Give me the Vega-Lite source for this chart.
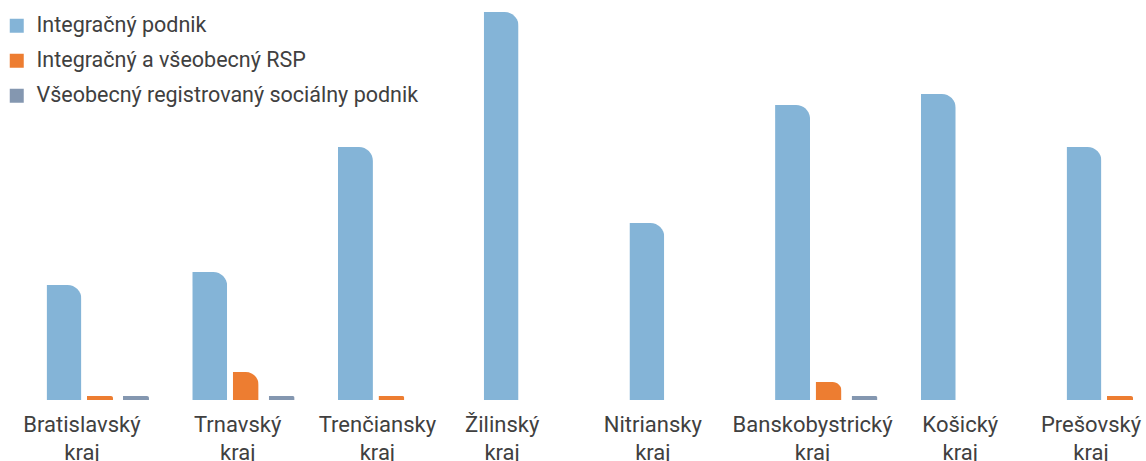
{
  "$schema": "https://vega.github.io/schema/vega-lite/v6.json",
  "autosize": "none",
  "width": 1146,
  "height": 388,
  "padding": {"left": 0, "top": 12, "right": 0, "bottom": 61},
  "background": "white",
  "config": {
    "view": {"stroke": null},
    "font": "Roboto",
    "axis": {"labelFont": "Roboto", "labelColor": "#404040"},
    "legend": {"labelFont": "Roboto", "labelColor": "#404040"}
  },
  "data": {
    "values": [
      {"kraj": "Bratislavský kraj", "typ": "Integračný podnik", "pocet": 28.75},
      {"kraj": "Bratislavský kraj", "typ": "Integračný a všeobecný RSP", "pocet": 1},
      {"kraj": "Bratislavský kraj", "typ": "Všeobecný registrovaný sociálny podnik", "pocet": 1},
      {"kraj": "Trnavský kraj", "typ": "Integračný podnik", "pocet": 32},
      {"kraj": "Trnavský kraj", "typ": "Integračný a všeobecný RSP", "pocet": 7},
      {"kraj": "Trnavský kraj", "typ": "Všeobecný registrovaný sociálny podnik", "pocet": 1},
      {"kraj": "Trenčiansky kraj", "typ": "Integračný podnik", "pocet": 63.25},
      {"kraj": "Trenčiansky kraj", "typ": "Integračný a všeobecný RSP", "pocet": 1},
      {"kraj": "Žilinský kraj", "typ": "Integračný podnik", "pocet": 97},
      {"kraj": "Nitriansky kraj", "typ": "Integračný podnik", "pocet": 44.25},
      {"kraj": "Banskobystrický kraj", "typ": "Integračný podnik", "pocet": 73.75},
      {"kraj": "Banskobystrický kraj", "typ": "Integračný a všeobecný RSP", "pocet": 4.5},
      {"kraj": "Banskobystrický kraj", "typ": "Všeobecný registrovaný sociálny podnik", "pocet": 1},
      {"kraj": "Košický kraj", "typ": "Integračný podnik", "pocet": 76.5},
      {"kraj": "Prešovský kraj", "typ": "Integračný podnik", "pocet": 63.25},
      {"kraj": "Prešovský kraj", "typ": "Integračný a všeobecný RSP", "pocet": 1}
    ]
  },
  "encoding": {
    "x": {
      "field": "kraj",
      "type": "nominal",
      "sort": ["Bratislavský kraj", "Trnavský kraj", "Trenčiansky kraj", "Žilinský kraj", "Nitriansky kraj", "Banskobystrický kraj", "Košický kraj", "Prešovský kraj"],
      "scale": {"range": [0, 1220], "paddingInner": 0.259, "paddingOuter": 0.3157},
      "axis": {
        "title": null,
        "domain": false,
        "ticks": false,
        "labelAngle": 0,
        "labelFontSize": 22,
        "labelPadding": 14,
        "labelOffset": {
          "condition": [
            {"test": "datum.value === 'Trnavský kraj'", "value": -8},
            {"test": "datum.value === 'Trenčiansky kraj'", "value": -14},
            {"test": "datum.value === 'Žilinský kraj'", "value": -35},
            {"test": "datum.value === 'Nitriansky kraj'", "value": -30},
            {"test": "datum.value === 'Banskobystrický kraj'", "value": -16},
            {"test": "datum.value === 'Košický kraj'", "value": -14},
            {"test": "datum.value === 'Prešovský kraj'", "value": -29}
          ],
          "value": -18
        },
        "labelLineHeight": 28,
        "labelBaseline": "top",
        "labelExpr": "split(datum.label, ' ')",
        "labelOverlap": false,
        "labelBound": false,
        "labelFlush": false
      }
    },
    "xOffset": {
      "field": "typ",
      "type": "nominal",
      "sort": ["Integračný podnik", "Integračný a všeobecný RSP", "Všeobecný registrovaný sociálny podnik"],
      "scale": {"paddingInner": 0, "paddingOuter": 0}
    },
    "y": {
      "field": "pocet",
      "type": "quantitative",
      "scale": {"domain": [0, 97], "nice": false},
      "axis": null
    },
    "color": {
      "field": "typ",
      "type": "nominal",
      "sort": ["Integračný podnik", "Integračný a všeobecný RSP", "Všeobecný registrovaný sociálny podnik"],
      "scale": {
        "domain": ["Integračný podnik", "Integračný a všeobecný RSP", "Všeobecný registrovaný sociálny podnik"],
        "range": ["#84B4D7", "#ED7D31", "#8497B0"]
      },
      "legend": {
        "title": null,
        "orient": "none",
        "legendX": 6,
        "legendY": 3,
        "symbolType": "square",
        "symbolSize": 196,
        "symbolStrokeWidth": 0,
        "labelFontSize": 21.5,
        "labelOffset": 9,
        "rowPadding": 12,
        "labelLimit": 600,
        "encode": {
          "symbols": {
            "update": {
              "fill": {"signal": "datum.value === 'Integračný podnik' ? '#5B9BD5' : scale('color', datum.value)"},
              "opacity": {"value": 1}
            }
          }
        }
      }
    }
  },
  "layer": [
    {
      "transform": [{"filter": "datum.typ === 'Integračný podnik'"}],
      "mark": {"type": "bar", "width": 35, "cornerRadiusTopRight": 14}
    },
    {
      "transform": [{"filter": "datum.typ !== 'Integračný podnik'"}],
      "mark": {"type": "bar", "width": 26, "cornerRadiusTopRight": 13}
    }
  ]
}
